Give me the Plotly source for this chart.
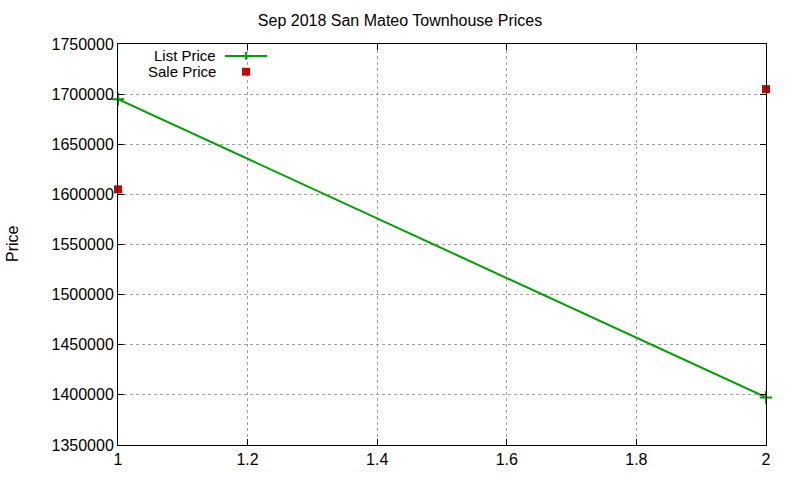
import plotly.graph_objects as go

x_vals = [1, 2]
list_price = [1695000, 1397500]
sale_price = [1605000, 1705000]
y_ticks = [1350000, 1400000, 1450000, 1500000, 1550000, 1600000, 1650000, 1700000, 1750000]
x_ticks = [1, 1.2, 1.4, 1.6, 1.8, 2]

GREEN = "#00a000"
RED = "#cc0000"
FONT = "Liberation Sans, Arial, sans-serif"

fig = go.Figure()
fig.add_trace(go.Scatter(x=x_vals, y=list_price, mode="lines+markers", name="List Price",
                         line=dict(color=GREEN, width=2),
                         marker=dict(symbol="cross-thin", size=9, line=dict(color=GREEN, width=2)),
                         cliponaxis=False, showlegend=False))
fig.add_trace(go.Scatter(x=x_vals, y=sale_price, mode="markers", name="Sale Price",
                         marker=dict(symbol="square", size=8, color=RED),
                         cliponaxis=False, showlegend=False))

W, H = 800, 480
L, R, T, B = 118, 34, 44, 31
pw, ph = W - L - R, H - T - B

def px(xp):
    return (xp - L) / pw

def py(yp):
    return 1 - (yp - T) / ph

axis_common = dict(showgrid=True, gridcolor="#a0a0a0", griddash="dot", gridwidth=1,
                   zeroline=False, showline=True, linecolor="black", linewidth=1,
                   mirror="ticks", ticks="inside", ticklen=6, tickcolor="black",
                   tickfont=dict(family=FONT, size=16, color="black"))

fig.update_xaxes(range=[1, 2], tickvals=x_ticks, ticktext=[str(v) for v in x_ticks], **axis_common)
fig.update_yaxes(range=[1350000, 1750000], tickvals=y_ticks, ticktext=[str(v) for v in y_ticks], **axis_common)

shapes = []
annotations = []
# legend (gnuplot style: text left, sample right)
annotations.append(dict(text="List Price", x=px(217), y=py(55.5), xref="paper", yref="paper",
                        xanchor="right", yanchor="middle", showarrow=False, borderpad=0,
                        height=14, valign="middle",
                        font=dict(family=FONT, size=15, color="black")))
annotations.append(dict(text="Sale Price", x=px(217), y=py(71), xref="paper", yref="paper",
                        xanchor="right", yanchor="middle", showarrow=False, borderpad=0,
                        height=14, valign="middle",
                        font=dict(family=FONT, size=15, color="black")))
shapes.append(dict(type="line", xref="paper", yref="paper", x0=px(225), x1=px(267), y0=py(56), y1=py(56),
                   line=dict(color=GREEN, width=2)))
shapes.append(dict(type="line", xref="paper", yref="paper", x0=px(246), x1=px(246), y0=py(52), y1=py(60),
                   line=dict(color=GREEN, width=2)))
shapes.append(dict(type="rect", xref="paper", yref="paper", x0=px(242), x1=px(250), y0=py(68), y1=py(76),
                   line=dict(width=0), fillcolor=RED))
# y axis title
annotations.append(dict(text="Price", x=px(12), y=py(246), xref="paper", yref="paper",
                        xanchor="center", yanchor="middle", textangle=-90, showarrow=False,
                        font=dict(family=FONT, size=16, color="black")))

fig.update_layout(
    width=W, height=H,
    margin=dict(l=L, r=R, t=T, b=B, pad=0),
    paper_bgcolor="white", plot_bgcolor="white",
    title=dict(text="Sep 2018 San Mateo Townhouse Prices", x=px(442), xanchor="center",
               y=1 - 20 / H, yanchor="middle", font=dict(family=FONT, size=16, color="black")),
    showlegend=False,
    shapes=shapes, annotations=annotations,
)

fig.write_html("out.html", config={"displayModeBar": False},
               post_script="document.body.style.margin='0';document.body.style.padding='0';")
